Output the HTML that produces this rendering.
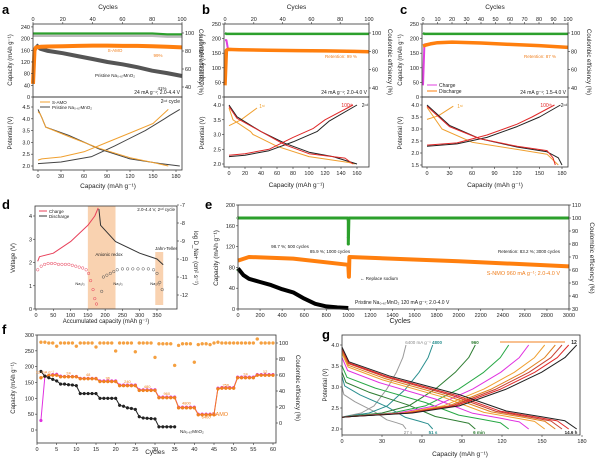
<!DOCTYPE html>
<html><head><meta charset="utf-8">
<style>
body{margin:0;background:#fff;}
svg{display:block;font-family:"Liberation Sans",Arial,sans-serif;}
</style></head>
<body>
<svg id="fig" width="600" height="461" viewBox="0 0 600 461" xmlns="http://www.w3.org/2000/svg"></svg>
<script>
// ---------- DATA ----------
const aCycles=[0,1,2,5,10,20,30,40,50,60,70,80,90,100];
const aSamo=[45,160,170,172,173,174,175,176,176,175,175,174,172,170];
const aPristineCycles=[2,5,10,20,30,40,50,60,70,80,90,100];
const aPristine=[178,165,158,150,140,130,120,112,102,90,82,72];
const aCe=[99,99,99,99,99,99,99,99,99,99,99,99,98,98];
const aSamoChg=[[0,2.25],[5,2.3],[30,2.38],[60,2.6],[90,3.0],[120,3.4],[150,3.8],[170,4.4]];
const aSamoDis=[[0,4.3],[3,4.2],[10,3.65],[40,3.25],[80,2.75],[120,2.35],[150,2.15],[170,2.0]];
const aPrisChg=[[0,2.1],[30,2.17],[70,2.4],[100,2.85],[140,3.5],[165,4.0],[172,4.15],[185,4.4]];
const aPrisDis=[[0,4.4],[5,4.05],[10,3.65],[40,3.3],[80,2.72],[120,2.3],[160,2.1],[185,2.0]];
const bCycles=[0,1,2,10,30,50,70,90,100];
const bDis=[40,160,163,162,160,159,158,156,155];
const bChg=[195,195,165,163,161,160,158,157,156];
const bCe=[100,99,99,99,99,99,99,99,99];
const b2Chg=[[0,2.25],[20,2.3],[50,2.45],[80,2.75],[110,3.1],[125,3.45],[160,4.0]];
const b2Dis=[[0,4.0],[10,3.6],[40,3.1],[70,2.7],[100,2.4],[130,2.25],[160,2.0]];
const b100Chg=[[0,2.3],[20,2.35],[50,2.5],[80,2.9],[105,3.2],[120,3.5],[155,4.0]];
const b100Dis=[[0,3.95],[10,3.55],[40,3.1],[70,2.65],[100,2.35],[145,2.2],[155,2.0]];
const b1Chg=[[0,3.3],[15,3.5],[35,3.9]];
const b1Dis=[[0,3.9],[5,3.5],[27,3.1],[30,3.0],[60,2.6],[100,2.25],[150,2.05],[157,2.0]];
const cCycles=[0,1,2,5,10,20,40,60,80,100];
const cDis=[175,176,178,182,186,188,185,180,176,170];
const cChg=[40,180,180,183,187,189,186,181,177,171];
const c2Chg=[[0,2.28],[40,2.38],[80,2.65],[120,3.1],[150,3.5],[178,4.0]];
const c2Dis=[[0,4.0],[30,3.15],[70,2.6],[120,2.25],[160,2.05],[175,1.8],[180,1.5]];
const c100Chg=[[0,2.33],[40,2.42],[80,2.75],[120,3.2],[140,3.5],[170,4.0]];
const c100Dis=[[0,3.95],[30,3.1],[70,2.6],[120,2.28],[160,2.1],[168,1.8],[171,1.5]];
const c1Chg=[[0,3.4],[15,3.55],[35,3.95]];
const c1Dis=[[0,3.9],[20,3.0],[60,2.45],[120,2.15],[160,1.95],[175,1.5]];
const dChg=[[5,2.05],[10,2.25],[50,2.4],[100,2.9],[150,3.6],[170,4.0],[180,4.35]];
const dDis=[[182,4.3],[187,3.6],[230,2.9],[300,2.4],[350,2.15],[368,1.9]];
const dDChgCap=[5,15,25,35,45,55,65,75,85,95,105,115,125,135,145,152,158,165,170,175];
const dDChg=[-10.6,-10.4,-10.3,-10.25,-10.25,-10.25,-10.3,-10.3,-10.3,-10.3,-10.35,-10.4,-10.45,-10.5,-10.6,-10.8,-11.2,-11.7,-12.2,-12.5];
const dDDisCap=[190,195,205,215,225,235,250,265,280,295,310,325,340,350,358,365];
const dDDis=[-11.8,-11.0,-10.9,-10.8,-10.7,-10.6,-10.55,-10.55,-10.55,-10.55,-10.55,-10.55,-10.6,-10.8,-11.3,-11.7];
const eSnmoCyc=[0,100,500,1000,1005,1010,1500,2000,2500,3000];
const eSnmo=[93,100,97,85,62,100,96,92,87,82];
const ePrisCyc=[0,50,100,200,300,400,500,600,700,800,900,1000];
const ePris=[78,65,58,52,46,38,32,20,10,5,3,2];
const eCeCyc=[0,10,995,1000,1000,1005,3000];
const eCe=[100,100,100,98,80,100,100];
const fSamo=[165,170,172,173,173,168,168,168,168,168,162,162,162,162,162,153,153,153,153,153,140,140,140,140,140,125,125,125,125,125,102,102,102,102,102,70,70,70,70,70,48,48,48,48,48,130,132,132,132,132,165,165,165,165,165,173,173,173,173,173];
const fSamoChg=[30,170,172,175,176,170,169,169,169,169,163,163,163,163,163,155,155,155,155,155,142,142,142,142,142,127,127,127,127,127,104,104,104,104,104,72,72,72,72,72,50,50,50,50,50,132,134,134,134,134,167,167,167,167,167,175,175,175,175,175];
const fPris=[185,170,165,160,155,145,145,143,142,140,115,115,115,115,115,100,100,100,100,100,78,75,70,68,65,42,38,37,36,35,10,10,10,10,10];
const fCe=[101,101,100,100,96,100,100,100,100,96,100,100,100,100,95,100,100,100,100,90,100,100,100,100,89,100,100,100,100,82,99,99,99,99,72,97,99,99,99,76,98,99,99,98,100,101,100,100,100,100,100,100,100,100,100,105,100,100,100,100];
const fRates=['12 mA g⁻¹','24','48','96','240','480','960','4800','6400','256','24','12'];
const gCap=[48,68,100,125,140,152,160,165,170,176];
const gColors=['#9a9a9a','#2a8f8f','#2e7d32','#27a845','#e030e0','#f0a030','#e08020','#c84030','#e02828','#202020'];
const gDisStart=[3.0,3.25,3.35,3.5,3.7,3.8,3.85,3.9,3.92,3.95];
const chgShape=[[0,2.28],[0.05,2.3],[0.3,2.38],[0.5,2.55],[0.7,2.95],[0.85,3.35],[0.95,3.7],[1,4.0]];
const disShape=[[0,1],[0.03,0.82],[0.2,0.65],[0.5,0.42],[0.7,0.22],[0.85,0.15],[0.95,0.1],[1,0]];

// ---------- HELPERS ----------
const NS='http://www.w3.org/2000/svg';
const svg=document.getElementById('fig');
function el(tag,attrs,name,parent){
  const e=document.createElementNS(NS,tag);
  for(const k in attrs)e.setAttribute(k,attrs[k]);
  
  
  (parent||svg).appendChild(e);return e;
}
function txt(x,y,s,name,o){
  o=o||{};
  const t=el('text',{x:x,y:y,'font-size':o.fs||5.5,fill:o.fill||'#222','text-anchor':o.anchor||'middle','font-weight':o.fw||'normal'},name);
  if(o.rot)t.setAttribute('transform','rotate('+o.rot+' '+x+' '+y+')');
  t.textContent=s;return t;
}
function sc(d0,d1,p0,p1){return v=>p0+(v-d0)*(p1-p0)/(d1-d0);}
function box(x0,y0,x1,y1,name){el('rect',{x:x0,y:y0,width:x1-x0,height:y1-y0,fill:'none',stroke:'#333','stroke-width':0.8},name);}
function xTicks(s,vals,y,dir,name,fmt,showLbl){
  vals.forEach(v=>{const x=s(v);
    el('line',{x1:x,x2:x,y1:y,y2:y+dir*2,stroke:'#333','stroke-width':0.6},name+'-tick');
    if(showLbl!==false)txt(x,dir>0?y+8:y-3,fmt?fmt(v):String(v),name+'-label');});
}
function yTicks(s,vals,x,dir,name,fmt){
  vals.forEach(v=>{const y=s(v);
    el('line',{x1:x,x2:x+dir*2,y1:y,y2:y,stroke:'#333','stroke-width':0.6},name+'-tick');
    txt(dir<0?x-3:x+3,y+2,fmt?fmt(v):String(v),name+'-label',{anchor:dir<0?'end':'start'});});
}
function path(pts,sx,sy,color,w,name,dash){
  const d=pts.map((p,i)=>(i?'L':'M')+sx(p[0]).toFixed(1)+' '+sy(p[1]).toFixed(1)).join(' ');
  const a={d:d,fill:'none',stroke:color,'stroke-width':w,'stroke-linejoin':'round'};
  if(dash)a['stroke-dasharray']=dash;
  return el('path',a,name);
}
function zip(a,b){return a.map((v,i)=>[v,b[i]]);}
function dots(pts,sx,sy,color,r,name,fill){
  pts.forEach(p=>el('circle',{cx:sx(p[0]),cy:sy(p[1]),r:r,fill:fill||color,stroke:color,'stroke-width':0.5},name));
}
function range(a,b,s){const r=[];for(let v=a;v<=b+1e-9;v+=s)r.push(+v.toFixed(2));return r;}
function lbl(x,y,s,name){txt(x,y,s,name,{fs:13,fw:'bold',anchor:'start',fill:'#000'});}
const f1=v=>v.toFixed(1);

// ---------- PANEL A ----------
lbl(2,14,'a','panel-a-label');
(function(){
  const X0=33,X1=182,Y0=24,YM=97,Y1=170;
  const cyc=sc(0,100,X0,X1), cap=sc(0,250,YM,Y0), ce=sc(40,100,87,33);
  const vx=sc(0,180,38,176), vy=sc(2.0,4.5,166,107);
  txt(108,9,'Cycles','a-top-axis-title',{fs:6.5});
  xTicks(cyc,range(0,100,20),Y0,-1,'a-cycle');
  path(zip(aCycles,aCe),cyc,ce,'#2ca02c',3,'a-ce-samo');
  path(zip(aCycles,aCe.map(v=>v-2)),cyc,ce,'#bbb',2.5,'a-ce-pristine');
  path(zip(aPristineCycles,aPristine),cyc,cap,'#555',4,'a-pristine-capacity');
  path(zip(aCycles,aSamo),cyc,cap,'#ff7f0e',4,'a-samo-capacity');
  box(X0,Y0,X1,YM,'a-upper-frame');
  yTicks(cap,range(0,240,40),X0,-1,'a-capacity-axis');
  yTicks(ce,[40,60,80,100],X1,1,'a-ce-axis');
  txt(12,60,'Capacity (mAh g⁻¹)','a-capacity-title',{fs:6,rot:-90});
  txt(199,62,'Coulombic efficiency (%)','a-ce-title',{fs:6,rot:90});
  txt(115,52,'S-AMO','a-samo-note',{fill:'#f08020',fs:4.5});
  txt(158,57,'99%','a-99-note',{fill:'#f08020',fs:4.5});
  txt(115,77,'Pristine Na₀.₆₇MnO₂','a-pristine-note',{fs:4.5});
  txt(162,90,'41%','a-41-note',{fs:4.5});
  txt(180,94,'24 mA g⁻¹; 2.0-4.4 V','a-condition',{anchor:'end',fs:5});
  path(aPrisChg,vx,vy,'#444',1,'a-pristine-charge');
  path(aPrisDis,vx,vy,'#444',1,'a-pristine-discharge');
  path(aSamoChg,vx,vy,'#f0a030',1,'a-samo-charge');
  path(aSamoDis,vx,vy,'#f0a030',1,'a-samo-discharge');
  box(X0,YM,X1,Y1,'a-lower-frame');
  yTicks(vy,range(2,4.5,0.5),X0,-1,'a-potential-axis',f1);
  xTicks(vx,range(0,180,30),Y1,1,'a-capacity-x');
  el('line',{x1:40,x2:50,y1:102,y2:102,stroke:'#f0a030','stroke-width':1},'a-legend-samo-line');
  txt(52,104,'S-AMO','a-legend-samo',{anchor:'start',fs:4.5});
  el('line',{x1:40,x2:50,y1:107,y2:107,stroke:'#444','stroke-width':1},'a-legend-pristine-line');
  txt(52,109,'Pristine Na₀.₆₇MnO₂','a-legend-pristine',{anchor:'start',fs:4.5});
  txt(180,103,'2ⁿᵈ cycle','a-cycle-note',{anchor:'end',fs:5});
  txt(12,133,'Potential (V)','a-potential-title',{fs:6,rot:-90});
  txt(108,188,'Capacity (mAh g⁻¹)','a-x-title',{fs:6.5});
})();

// ---------- PANELS B & C ----------
function bcPanel(p){
  const X0=p.x0,X1=p.x1,Y0=24,YM=97,Y1=p.y1;
  const cyc=sc(0,100,X0+1,X1), cap=sc(0,250,YM,Y0), ce=sc(40,100,88,33);
  const vx=sc(0,p.cmax,p.cx0,p.cx1), vy=sc(p.v0,4.0,p.vy0,105);
  lbl(X0-22,14,p.id,p.id+'-panel-label');
  txt((X0+X1)/2,9,'Cycles',p.id+'-top-axis-title',{fs:6.5});
  xTicks(cyc,range(0,100,p.cstep),Y0,-1,p.id+'-cycle');
  path(zip(p.cycles,p.ce),cyc,ce,'#2ca02c',2.5,p.id+'-ce');
  path(zip(p.cycles,p.chg),cyc,cap,'#e040e0',2,p.id+'-charge-capacity');
  path(zip(p.cycles,p.dis),cyc,cap,'#ff7f0e',3.5,p.id+'-discharge-capacity');
  box(X0,Y0,X1,YM,p.id+'-upper-frame');
  yTicks(cap,range(0,250,50),X0,-1,p.id+'-capacity-axis');
  yTicks(ce,[40,60,80,100],X1,1,p.id+'-ce-axis');
  txt(X0-20,60,'Capacity (mAh g⁻¹)',p.id+'-capacity-title',{fs:6,rot:-90});
  txt(X1+19,62,'Coulombic efficiency (%)',p.id+'-ce-title',{fs:6,rot:90});
  txt(X1-12,p.retY,p.ret,p.id+'-retention',{anchor:'end',fill:'#f08020',fs:4.5});
  txt(X1-2,94,p.cond,p.id+'-condition',{anchor:'end',fs:5});
  p.curves.forEach(c=>path(c[0],vx,vy,c[1],1,p.id+'-'+c[2]));
  box(X0,YM,X1,Y1,p.id+'-lower-frame');
  yTicks(vy,range(p.v0,4.0,0.5),X0,-1,p.id+'-potential-axis',f1);
  xTicks(vx,range(0,p.cmax,p.xstep),Y1,1,p.id+'-capacity-x');
  txt(X0-20,133,'Potential (V)',p.id+'-potential-title',{fs:6,rot:-90});
  txt((X0+X1)/2,187,'Capacity (mAh g⁻¹)',p.id+'-x-title',{fs:6.5});
  txt(p.n1x,108,'1ˢᵗ',p.id+'-first-note',{fill:'#f0a030',fs:5});
  txt(X1-22,107,'100ᵗʰ',p.id+'-100th-note',{fill:'#e02828',fs:5});
  txt(X1-4,107,'2ⁿᵈ',p.id+'-2nd-note',{fs:5});
}
bcPanel({id:'b',x0:224,x1:369,y1:167,cycles:bCycles,dis:bDis,chg:bChg,ce:bCe,cstep:20,cmax:160,cx0:229,cx1:357,v0:2.0,vy0:164,xstep:20,
  ret:'Retention: 99 %',retY:58,cond:'24 mA g⁻¹; 2.0-4.0 V',n1x:262,
  curves:[[b1Chg,'#f0a030','first-charge'],[b1Dis,'#f0a030','first-discharge'],[b2Chg,'#222','second-charge'],[b2Dis,'#222','second-discharge'],[b100Chg,'#e02828','100th-charge'],[b100Dis,'#e02828','100th-discharge']]});
bcPanel({id:'c',x0:422,x1:568,y1:167,cycles:cCycles,dis:cDis,chg:cChg,ce:bCe.concat([99]),cstep:10,cmax:180,cx0:427,cx1:562,v0:1.5,vy0:165,xstep:30,
  ret:'Retention: 87 %',retY:58,cond:'24 mA g⁻¹; 1.5-4.0 V',n1x:460,
  curves:[[c1Chg,'#f0a030','first-charge'],[c1Dis,'#f0a030','first-discharge'],[c2Chg,'#222','second-charge'],[c2Dis,'#222','second-discharge'],[c100Chg,'#e02828','100th-charge'],[c100Dis,'#e02828','100th-discharge']]});
el('line',{x1:427,x2:437,y1:85,y2:85,stroke:'#e040e0','stroke-width':1},'c-legend-charge-line');
txt(439,87,'Charge','c-legend-charge',{anchor:'start',fs:5});
el('line',{x1:427,x2:437,y1:91,y2:91,stroke:'#ff7f0e','stroke-width':1},'c-legend-discharge-line');
txt(439,93,'Discharge','c-legend-discharge',{anchor:'start',fs:5});

// ---------- PANEL D ----------
lbl(2,209,'d','panel-d-label');
(function(){
  const X0=35,X1=177,Y0=206,Y1=309;
  const x=sc(0,350,36,157), y=sc(0,4,309,216), yd=sc(-7,-12,205,295);
  el('rect',{x:x(150),y:Y0,width:x(230)-x(150),height:Y1-Y0,fill:'#f9d2b0'},'d-anionic-band');
  el('rect',{x:x(345),y:252,width:x(368)-x(345),height:53,fill:'#f9d2b0'},'d-jahn-teller-band');
  path(dChg,x,y,'#e8405a',1,'d-charge-voltage');
  path(dDis,x,y,'#333',1,'d-discharge-voltage');
  dots(zip(dDChgCap,dDChg),x,yd,'#e8405a',1.3,'d-charge-diffusion','none');
  dots(zip(dDDisCap,dDDis),x,yd,'#555',1.3,'d-discharge-diffusion','none');
  box(X0,Y0,X1,Y1,'d-frame');
  yTicks(y,[0,1,2,3,4],X0,-1,'d-voltage-axis');
  yTicks(yd,[-7,-8,-9,-10,-11,-12],X1,1,'d-logd-axis');
  xTicks(x,range(0,350,50),Y1,1,'d-x');
  txt(15,258,'Voltage (V)','d-voltage-title',{fs:6,rot:-90});
  txt(194,258,'log D_Na+ (cm² s⁻¹)','d-logd-title',{fs:6,rot:90});
  txt(106,323,'Accumulated capacity (mAh g⁻¹)','d-x-title',{fs:6});
  el('line',{x1:39,x2:47,y1:211,y2:211,stroke:'#e8405a','stroke-width':1},'d-legend-charge-line');
  txt(49,213,'Charge','d-legend-charge',{anchor:'start',fs:4.5});
  el('line',{x1:39,x2:47,y1:216,y2:216,stroke:'#333','stroke-width':1},'d-legend-discharge-line');
  txt(49,218,'Discharge','d-legend-discharge',{anchor:'start',fs:4.5});
  txt(175,211,'2.0-4.4 V, 2ⁿᵈ cycle','d-condition',{anchor:'end',fs:4.5});
  txt(109,256,'Anionic redox','d-anionic-note',{fs:4.5});
  txt(166,250,'Jahn-Teller','d-jt-note',{fs:4.5});
  txt(80,285,'Na₁/₃','d-na-note-1',{fs:4});
  txt(118,285,'Na₁/₃','d-na-note-2',{fs:4});
  txt(155,285,'Na₂/₃','d-na-note-3',{fs:4});
})();

// ---------- PANEL E ----------
lbl(205,209,'e','panel-e-label');
(function(){
  const X0=238,X1=569,Y0=205,Y1=309;
  const x=sc(0,3000,X0,X1), y=sc(0,200,Y1,Y0), yc=sc(30,110,Y1,Y0);
  path(zip(eCeCyc,eCe),x,yc,'#2ca02c',3,'e-ce');
  dots([[0,100],[0,60],[1000,98],[1000,85],[1000,80]],x,yc,'#2ca02c',1.3,'e-ce-markers','none');
  path(zip(ePrisCyc,ePris),x,y,'#000',4,'e-pristine-capacity');
  path(zip(eSnmoCyc,eSnmo),x,y,'#ff7f0e',4,'e-snmo-capacity');
  box(X0,Y0,X1,Y1,'e-frame');
  yTicks(y,range(0,200,40),X0,-1,'e-capacity-axis');
  yTicks(yc,range(30,110,10),X1,1,'e-ce-axis');
  xTicks(x,range(0,3000,200),Y1,1,'e-x');
  txt(400,323,'Cycles','e-x-title',{fs:7});
  txt(218,258,'Capacity (mAh g⁻¹)','e-capacity-title',{fs:6.5,rot:-90});
  txt(590,258,'Coulombic efficiency (%)','e-ce-title',{fs:6.5,rot:90});
  txt(290,248,'98.7 %; 500 cycles','e-note-500',{fs:4.5});
  txt(330,253,'85.9 %; 1000 cycles','e-note-1000',{fs:4.5});
  txt(560,253,'Retention: 83.2 %; 3000 cycles','e-note-3000',{anchor:'end',fs:4.5});
  txt(560,275,'S-NMO 960 mA g⁻¹; 2.0-4.0 V','e-snmo-note',{anchor:'end',fill:'#f08020',fs:5.5});
  txt(360,280,'← Replace sodium','e-replace-note',{anchor:'start',fs:4.5});
  txt(355,304,'Pristine Na₀.₆₇MnO₂  120 mA g⁻¹; 2.0-4.0 V','e-pristine-note',{anchor:'start',fs:5});
})();

// ---------- PANEL F ----------
lbl(2,334,'f','panel-f-label');
(function(){
  const X0=37,X1=276,Y0=335,Y1=443;
  const x=sc(0,60,37,273), y=sc(0,300,430,335), yc=sc(0,100,423,343);
  const cyc=fSamo.map((v,i)=>i+1);
  dots(zip(cyc,fCe),x,yc,'#f5a040',1.5,'f-ce-points');
  path(zip(cyc,fSamoChg),x,y,'#e030e0',1,'f-samo-charge');
  dots(zip(cyc,fSamoChg),x,y,'#e030e0',1.4,'f-samo-charge-points');
  path(zip(cyc,fSamo),x,y,'#f08020',1,'f-samo-discharge');
  dots(zip(cyc,fSamo),x,y,'#f08020',1.5,'f-samo-discharge-points');
  const pc=fPris.map((v,i)=>i+1);
  path(zip(pc,fPris),x,y,'#222',1,'f-pristine');
  dots(zip(pc,fPris),x,y,'#222',1.4,'f-pristine-points');
  box(X0,Y0,X1,Y1,'f-frame');
  yTicks(y,range(0,300,50),X0,-1,'f-capacity-axis');
  yTicks(yc,range(0,100,20),X1,1,'f-ce-axis');
  xTicks(x,range(0,60,5),Y1,1,'f-x');
  txt(155,454,'Cycles','f-x-title',{fs:6.5});
  txt(15,388,'Capacity (mAh g⁻¹)','f-capacity-title',{fs:6,rot:-90});
  txt(296,388,'Coulombic efficiency (%)','f-ce-title',{fs:6,rot:90});
  const rc=[2,8,13,18,23,28,33,38,43,48,53,58], rv=[178,175,170,160,148,132,110,80,36,138,172,180];
  fRates.forEach((s,i)=>txt(x(rc[i]),y(rv[i]),s,'f-rate-label',{fill:'#f08020',fs:4}));
  txt(220,416,'SAMO','f-samo-note',{fill:'#f08020',fs:5.5});
  txt(180,433,'Na₀.₆₇MnO₂','f-pristine-note',{anchor:'start',fs:4.5});
})();

// ---------- PANEL G ----------
lbl(322,339,'g','panel-g-label');
(function(){
  const X0=342,X1=580,Y0=335,Y1=435;
  const x=sc(0,180,342,582), y=sc(2.0,4.0,429,345);
  gCap.forEach((c,i)=>{
    const ch=chgShape.map(p=>[p[0]*c,p[1]]);
    path(ch,x,y,gColors[i],1,'g-charge-curve-'+i);
    const s=gDisStart[i];
    const ds=disShape.map(p=>[p[0]*c,2.0+p[1]*(s-2.0)]);
    path(ds,x,y,gColors[i],1,'g-discharge-curve-'+i);
  });
  box(X0,Y0,X1,Y1,'g-frame');
  yTicks(y,range(2,4,0.5),X0,-1,'g-potential-axis',f1);
  xTicks(x,range(0,180,30),Y1,1,'g-x');
  txt(460,456,'Capacity (mAh g⁻¹)','g-x-title',{fs:6.5});
  txt(327,385,'Potential (V)','g-potential-title',{fs:6,rot:-90});
  txt(418,344,'6400 mA g⁻¹','g-6400-note',{fill:'#888',fs:4.5});
  txt(437,344,'4800','g-4800-note',{fill:'#2a8f8f',fs:4.5,fw:'bold'});
  txt(475,344,'960','g-960-note',{fill:'#2e7d32',fs:4.5,fw:'bold'});
  el('line',{x1:500,x2:565,y1:342,y2:342,stroke:'#f8c090','stroke-width':2},'g-arrow');
  txt(574,344,'12','g-12-note',{fs:5,fw:'bold'});
  txt(408,434,'27 s','g-27s-note',{fill:'#888',fs:4.5});
  txt(433,434,'51 s','g-51s-note',{fill:'#2a8f8f',fs:4.5,fw:'bold'});
  txt(479,434,'6 min','g-6min-note',{fill:'#2e7d32',fs:4.5,fw:'bold'});
  txt(571,434,'14.6 h','g-14h-note',{fs:4.5,fw:'bold'});
})();
</script>
</body></html>
